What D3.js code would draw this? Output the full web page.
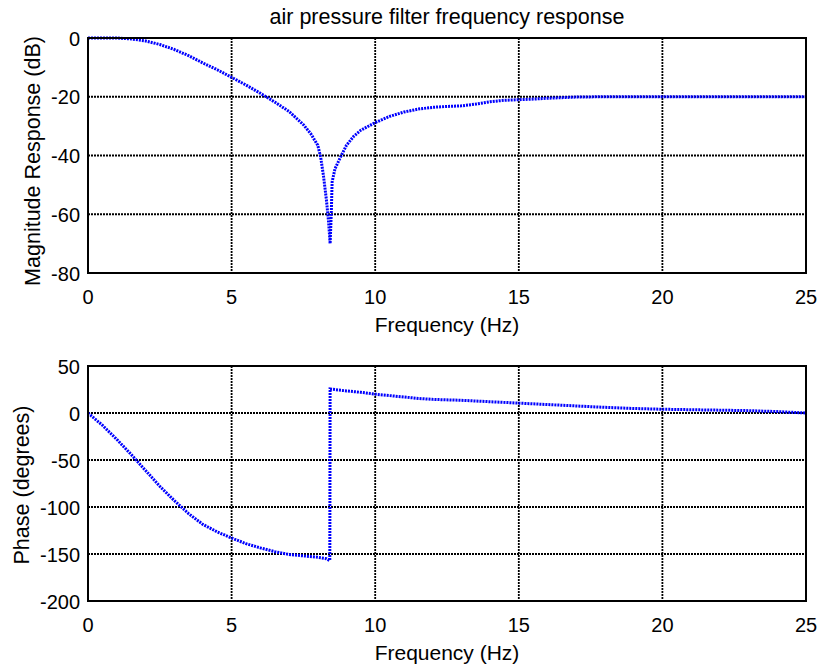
<!DOCTYPE html>
<html>
<head>
<meta charset="utf-8">
<script src="https://cdn.jsdelivr.net/npm/d3@7"></script>
<style>
  body { margin: 0; background: #fff; }
  svg { display: block; }
  text { font-family: "Liberation Sans", Arial, sans-serif; fill: #000; }
</style>
</head>
<body>
<svg id="chart" width="820" height="670"></svg>
<script>
// ---- data ----
const title = "air pressure filter frequency response";
const xTicks = [0, 5, 10, 15, 20, 25];
const magTicks = [-80, -60, -40, -20, 0];
const phaseTicks = [-200, -150, -100, -50, 0, 50];

const magFreq = [0, 0.5, 1, 1.5, 2, 2.5, 3, 3.5, 4, 4.5, 5, 5.5, 6, 6.5, 7, 7.5, 7.75, 8, 8.1, 8.2, 8.3, 8.38, 8.43, 8.47, 8.5, 8.6, 8.8, 9, 9.25, 9.5, 10, 10.5, 11, 11.5, 12, 12.5, 13, 13.5, 14, 14.5, 15, 15.5, 16, 16.5, 17, 18, 19, 20, 21, 22, 23, 24, 25];
const magDB   = [0, 0, 0, -0.3, -1.0, -2.2, -3.9, -6.0, -8.5, -10.8, -13.4, -16.0, -18.8, -21.8, -25.0, -29.5, -32.5, -36.5, -40.5, -47, -55, -63, -70, -60, -49, -44.5, -40.4, -36.5, -33.5, -31.4, -28.8, -26.7, -25.2, -24.2, -23.6, -23.3, -23.1, -22.5, -21.7, -21.2, -21.0, -20.8, -20.5, -20.3, -20.1, -20, -20, -20, -20, -20, -20, -20, -20];

const phaseFreq = [0, 0.5, 1, 1.5, 2, 2.5, 3, 3.5, 4, 4.5, 5, 5.5, 6, 6.5, 7, 7.5, 8, 8.3, 8.42, 8.43, 9, 9.5, 10, 10.5, 11, 11.5, 12, 13, 14, 15, 16, 17, 18, 19, 20, 21, 22, 23, 24, 25];
const phaseDeg  = [0, -13, -28, -44, -61, -78, -93, -107, -118.5, -126.5, -133, -139, -143.5, -147.5, -150.5, -152, -153.5, -155, -157, 25.5, 23.5, 22, 20, 18.5, 17, 15.5, 14.5, 13.5, 12, 10.5, 9, 7.5, 6, 4.8, 4, 3.5, 3, 2.5, 1.5, 0];

// ---- layout ----
const svg = d3.select("#chart");
const left = 88, right = 806;
const panels = [
  { top: 38, bottom: 273, domain: [-80, 0], ticks: magTicks, xs: magFreq, ys: magDB, ylabel: "Magnitude Response (dB)", ylabelX: 40, cy: 161 },
  { top: 366, bottom: 601, domain: [-200, 50], ticks: phaseTicks, xs: phaseFreq, ys: phaseDeg, ylabel: "Phase (degrees)", ylabelX: 29, cy: 485 }
];

const x = d3.scaleLinear().domain([0, 25]).range([left, right]);

panels.forEach(p => {
  const y = d3.scaleLinear().domain(p.domain).range([p.bottom, p.top]);
  const g = svg.append("g");

  // grid
  g.selectAll(".vgrid").data(xTicks.slice(1, -1)).enter().append("line")
    .attr("x1", d => x(d)).attr("x2", d => x(d))
    .attr("y1", p.top).attr("y2", p.bottom)
    .attr("stroke", "#000").attr("stroke-width", 1.8).attr("stroke-dasharray", "2,1");
  g.selectAll(".hgrid").data(p.ticks.slice(1, -1)).enter().append("line")
    .attr("x1", left).attr("x2", right)
    .attr("y1", d => y(d)).attr("y2", d => y(d))
    .attr("stroke", "#000").attr("stroke-width", 1.8).attr("stroke-dasharray", "2,1");

  // data line
  const line = d3.line().x(d => x(d[0])).y(d => y(d[1]));
  g.append("path")
    .datum(p.xs.map((f, i) => [f, p.ys[i]]))
    .attr("d", line)
    .attr("fill", "none")
    .attr("stroke", "#0000ff")
    .attr("stroke-width", 3)
    .attr("stroke-dasharray", "2,1");

  // frame
  g.append("rect")
    .attr("x", left).attr("y", p.top)
    .attr("width", right - left).attr("height", p.bottom - p.top)
    .attr("fill", "none").attr("stroke", "#000").attr("stroke-width", 2);

  // x tick labels
  g.selectAll(".xt").data(xTicks).enter().append("text")
    .attr("x", d => x(d)).attr("y", p.bottom + 31)
    .attr("text-anchor", "middle").attr("font-size", 20)
    .text(d => d);
  // x label
  g.append("text")
    .attr("x", (left + right) / 2).attr("y", p.bottom + 58.5)
    .attr("text-anchor", "middle").attr("font-size", 21)
    .text("Frequency (Hz)");

  // y tick labels
  g.selectAll(".yt").data(p.ticks).enter().append("text")
    .attr("x", 80).attr("y", d => y(d) + 7.5)
    .attr("text-anchor", "end").attr("font-size", 20)
    .text(d => d);
  // y label
  g.append("text")
    .attr("transform", `translate(${p.ylabelX},${p.cy}) rotate(-90)`)
    .attr("text-anchor", "middle").attr("font-size", 21.5)
    .text(p.ylabel);
});

// title
svg.append("text")
  .attr("x", (left + right) / 2).attr("y", 24)
  .attr("text-anchor", "middle").attr("font-size", 21.5)
  .text(title);
</script>
</body>
</html>
